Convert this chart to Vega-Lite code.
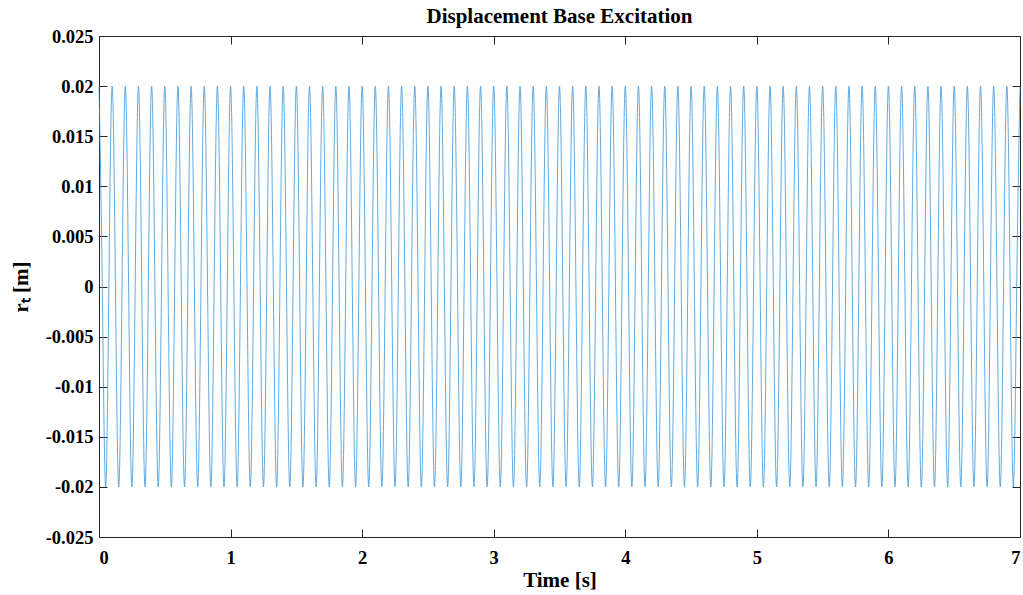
{
  "$schema": "https://vega.github.io/schema/vega-lite/v6.json",
  "width": 921,
  "height": 501,
  "autosize": "none",
  "padding": {"left": 99, "top": 36, "right": 3, "bottom": 58},
  "background": "white",
  "title": {"text": "Displacement Base Excitation", "font": "Liberation Serif", "fontSize": 21, "fontWeight": "bold", "color": "#000000", "anchor": "middle", "offset": 0},
  "config": {
    "view": {"stroke": null},
    "axis": {"grid": false, "domainColor": "#262626", "tickColor": "#262626", "labelColor": "#000000", "labelFont": "Liberation Serif", "labelFontWeight": "bold", "labelFontSize": 18.5, "titleFont": "Liberation Serif", "titleFontWeight": "bold", "titleFontSize": 21, "titleColor": "#000000", "tickSize": -8, "domainWidth": 1, "tickWidth": 1}
  },
  "data": {"values": [
    {"t":0,"r":0.02},{"t":0.025,"r":0},{"t":0.05,"r":-0.02},{"t":0.075,"r":0},
    {"t":0.1,"r":0.02},{"t":0.125,"r":0},{"t":0.15,"r":-0.02},{"t":0.175,"r":0},
    {"t":0.2,"r":0.02},{"t":0.225,"r":0},{"t":0.25,"r":-0.02},{"t":0.275,"r":0},
    {"t":0.3,"r":0.02},{"t":0.325,"r":0},{"t":0.35,"r":-0.02},{"t":0.375,"r":0},
    {"t":0.4,"r":0.02},{"t":0.425,"r":0},{"t":0.45,"r":-0.02},{"t":0.475,"r":0},
    {"t":0.5,"r":0.02},{"t":0.525,"r":0},{"t":0.55,"r":-0.02},{"t":0.575,"r":0},
    {"t":0.6,"r":0.02},{"t":0.625,"r":0},{"t":0.65,"r":-0.02},{"t":0.675,"r":0},
    {"t":0.7,"r":0.02},{"t":0.725,"r":0},{"t":0.75,"r":-0.02},{"t":0.775,"r":0},
    {"t":0.8,"r":0.02},{"t":0.825,"r":0},{"t":0.85,"r":-0.02},{"t":0.875,"r":0},
    {"t":0.9,"r":0.02},{"t":0.925,"r":0},{"t":0.95,"r":-0.02},{"t":0.975,"r":0},
    {"t":1,"r":0.02},{"t":1.025,"r":0},{"t":1.05,"r":-0.02},{"t":1.075,"r":0},
    {"t":1.1,"r":0.02},{"t":1.125,"r":0},{"t":1.15,"r":-0.02},{"t":1.175,"r":0},
    {"t":1.2,"r":0.02},{"t":1.225,"r":0},{"t":1.25,"r":-0.02},{"t":1.275,"r":0},
    {"t":1.3,"r":0.02},{"t":1.325,"r":0},{"t":1.35,"r":-0.02},{"t":1.375,"r":0},
    {"t":1.4,"r":0.02},{"t":1.425,"r":0},{"t":1.45,"r":-0.02},{"t":1.475,"r":0},
    {"t":1.5,"r":0.02},{"t":1.525,"r":0},{"t":1.55,"r":-0.02},{"t":1.575,"r":0},
    {"t":1.6,"r":0.02},{"t":1.625,"r":0},{"t":1.65,"r":-0.02},{"t":1.675,"r":0},
    {"t":1.7,"r":0.02},{"t":1.725,"r":0},{"t":1.75,"r":-0.02},{"t":1.775,"r":0},
    {"t":1.8,"r":0.02},{"t":1.825,"r":0},{"t":1.85,"r":-0.02},{"t":1.875,"r":0},
    {"t":1.9,"r":0.02},{"t":1.925,"r":0},{"t":1.95,"r":-0.02},{"t":1.975,"r":0},
    {"t":2,"r":0.02},{"t":2.025,"r":0},{"t":2.05,"r":-0.02},{"t":2.075,"r":0},
    {"t":2.1,"r":0.02},{"t":2.125,"r":0},{"t":2.15,"r":-0.02},{"t":2.175,"r":0},
    {"t":2.2,"r":0.02},{"t":2.225,"r":0},{"t":2.25,"r":-0.02},{"t":2.275,"r":0},
    {"t":2.3,"r":0.02},{"t":2.325,"r":0},{"t":2.35,"r":-0.02},{"t":2.375,"r":0},
    {"t":2.4,"r":0.02},{"t":2.425,"r":0},{"t":2.45,"r":-0.02},{"t":2.475,"r":0},
    {"t":2.5,"r":0.02},{"t":2.525,"r":0},{"t":2.55,"r":-0.02},{"t":2.575,"r":0},
    {"t":2.6,"r":0.02},{"t":2.625,"r":0},{"t":2.65,"r":-0.02},{"t":2.675,"r":0},
    {"t":2.7,"r":0.02},{"t":2.725,"r":0},{"t":2.75,"r":-0.02},{"t":2.775,"r":0},
    {"t":2.8,"r":0.02},{"t":2.825,"r":0},{"t":2.85,"r":-0.02},{"t":2.875,"r":0},
    {"t":2.9,"r":0.02},{"t":2.925,"r":0},{"t":2.95,"r":-0.02},{"t":2.975,"r":0},
    {"t":3,"r":0.02},{"t":3.025,"r":0},{"t":3.05,"r":-0.02},{"t":3.075,"r":0},
    {"t":3.1,"r":0.02},{"t":3.125,"r":0},{"t":3.15,"r":-0.02},{"t":3.175,"r":0},
    {"t":3.2,"r":0.02},{"t":3.225,"r":0},{"t":3.25,"r":-0.02},{"t":3.275,"r":0},
    {"t":3.3,"r":0.02},{"t":3.325,"r":0},{"t":3.35,"r":-0.02},{"t":3.375,"r":0},
    {"t":3.4,"r":0.02},{"t":3.425,"r":0},{"t":3.45,"r":-0.02},{"t":3.475,"r":0},
    {"t":3.5,"r":0.02},{"t":3.525,"r":0},{"t":3.55,"r":-0.02},{"t":3.575,"r":0},
    {"t":3.6,"r":0.02},{"t":3.625,"r":0},{"t":3.65,"r":-0.02},{"t":3.675,"r":0},
    {"t":3.7,"r":0.02},{"t":3.725,"r":0},{"t":3.75,"r":-0.02},{"t":3.775,"r":0},
    {"t":3.8,"r":0.02},{"t":3.825,"r":0},{"t":3.85,"r":-0.02},{"t":3.875,"r":0},
    {"t":3.9,"r":0.02},{"t":3.925,"r":0},{"t":3.95,"r":-0.02},{"t":3.975,"r":0},
    {"t":4,"r":0.02},{"t":4.025,"r":0},{"t":4.05,"r":-0.02},{"t":4.075,"r":0},
    {"t":4.1,"r":0.02},{"t":4.125,"r":0},{"t":4.15,"r":-0.02},{"t":4.175,"r":0},
    {"t":4.2,"r":0.02},{"t":4.225,"r":0},{"t":4.25,"r":-0.02},{"t":4.275,"r":0},
    {"t":4.3,"r":0.02},{"t":4.325,"r":0},{"t":4.35,"r":-0.02},{"t":4.375,"r":0},
    {"t":4.4,"r":0.02},{"t":4.425,"r":0},{"t":4.45,"r":-0.02},{"t":4.475,"r":0},
    {"t":4.5,"r":0.02},{"t":4.525,"r":0},{"t":4.55,"r":-0.02},{"t":4.575,"r":0},
    {"t":4.6,"r":0.02},{"t":4.625,"r":0},{"t":4.65,"r":-0.02},{"t":4.675,"r":0},
    {"t":4.7,"r":0.02},{"t":4.725,"r":0},{"t":4.75,"r":-0.02},{"t":4.775,"r":0},
    {"t":4.8,"r":0.02},{"t":4.825,"r":0},{"t":4.85,"r":-0.02},{"t":4.875,"r":0},
    {"t":4.9,"r":0.02},{"t":4.925,"r":0},{"t":4.95,"r":-0.02},{"t":4.975,"r":0},
    {"t":5,"r":0.02},{"t":5.025,"r":0},{"t":5.05,"r":-0.02},{"t":5.075,"r":0},
    {"t":5.1,"r":0.02},{"t":5.125,"r":0},{"t":5.15,"r":-0.02},{"t":5.175,"r":0},
    {"t":5.2,"r":0.02},{"t":5.225,"r":0},{"t":5.25,"r":-0.02},{"t":5.275,"r":0},
    {"t":5.3,"r":0.02},{"t":5.325,"r":0},{"t":5.35,"r":-0.02},{"t":5.375,"r":0},
    {"t":5.4,"r":0.02},{"t":5.425,"r":0},{"t":5.45,"r":-0.02},{"t":5.475,"r":0},
    {"t":5.5,"r":0.02},{"t":5.525,"r":0},{"t":5.55,"r":-0.02},{"t":5.575,"r":0},
    {"t":5.6,"r":0.02},{"t":5.625,"r":0},{"t":5.65,"r":-0.02},{"t":5.675,"r":0},
    {"t":5.7,"r":0.02},{"t":5.725,"r":0},{"t":5.75,"r":-0.02},{"t":5.775,"r":0},
    {"t":5.8,"r":0.02},{"t":5.825,"r":0},{"t":5.85,"r":-0.02},{"t":5.875,"r":0},
    {"t":5.9,"r":0.02},{"t":5.925,"r":0},{"t":5.95,"r":-0.02},{"t":5.975,"r":0},
    {"t":6,"r":0.02},{"t":6.025,"r":0},{"t":6.05,"r":-0.02},{"t":6.075,"r":0},
    {"t":6.1,"r":0.02},{"t":6.125,"r":0},{"t":6.15,"r":-0.02},{"t":6.175,"r":0},
    {"t":6.2,"r":0.02},{"t":6.225,"r":0},{"t":6.25,"r":-0.02},{"t":6.275,"r":0},
    {"t":6.3,"r":0.02},{"t":6.325,"r":0},{"t":6.35,"r":-0.02},{"t":6.375,"r":0},
    {"t":6.4,"r":0.02},{"t":6.425,"r":0},{"t":6.45,"r":-0.02},{"t":6.475,"r":0},
    {"t":6.5,"r":0.02},{"t":6.525,"r":0},{"t":6.55,"r":-0.02},{"t":6.575,"r":0},
    {"t":6.6,"r":0.02},{"t":6.625,"r":0},{"t":6.65,"r":-0.02},{"t":6.675,"r":0},
    {"t":6.7,"r":0.02},{"t":6.725,"r":0},{"t":6.75,"r":-0.02},{"t":6.775,"r":0},
    {"t":6.8,"r":0.02},{"t":6.825,"r":0},{"t":6.85,"r":-0.02},{"t":6.875,"r":0},
    {"t":6.9,"r":0.02},{"t":6.925,"r":0},{"t":6.95,"r":-0.02},{"t":6.975,"r":0},
    {"t":7,"r":0.02}
  ]},
  "layer": [
    {
      "mark": {"type": "line", "interpolate": "natural", "color": "#3a93d8", "strokeWidth": 0.8},
      "encoding": {
        "x": {"field": "t", "type": "quantitative", "scale": {"domain": [0, 7], "nice": false, "zero": false},
              "axis": {"orient": "bottom", "values": [0,1,2,3,4,5,6,7], "format": "d", "title": "Time [s]", "labelPadding": 19, "titlePadding": 3}},
        "y": {"field": "r", "type": "quantitative", "scale": {"domain": [-0.025, 0.025], "nice": false, "zero": false},
              "axis": {"orient": "left", "values": [-0.025,-0.02,-0.015,-0.01,-0.005,0,0.005,0.01,0.015,0.02,0.025], "labelExpr": "replace(format(datum.value, '.3~f'), '−', '-')", "title": "rₜ [m]", "labelPadding": 14, "titlePadding": 14}}
      }
    },
    {
      "mark": {"type": "line", "opacity": 0},
      "encoding": {
        "x": {"field": "t", "type": "quantitative", "scale": {"domain": [0, 7], "nice": false, "zero": false},
              "axis": {"orient": "top", "values": [0,1,2,3,4,5,6,7], "labels": false, "title": null}},
        "y": {"field": "r", "type": "quantitative", "scale": {"domain": [-0.025, 0.025], "nice": false, "zero": false},
              "axis": {"orient": "right", "values": [-0.025,-0.02,-0.015,-0.01,-0.005,0,0.005,0.01,0.015,0.02,0.025], "labels": false, "title": null}}
      }
    }
  ],
  "resolve": {"axis": {"x": "independent", "y": "independent"}}
}
